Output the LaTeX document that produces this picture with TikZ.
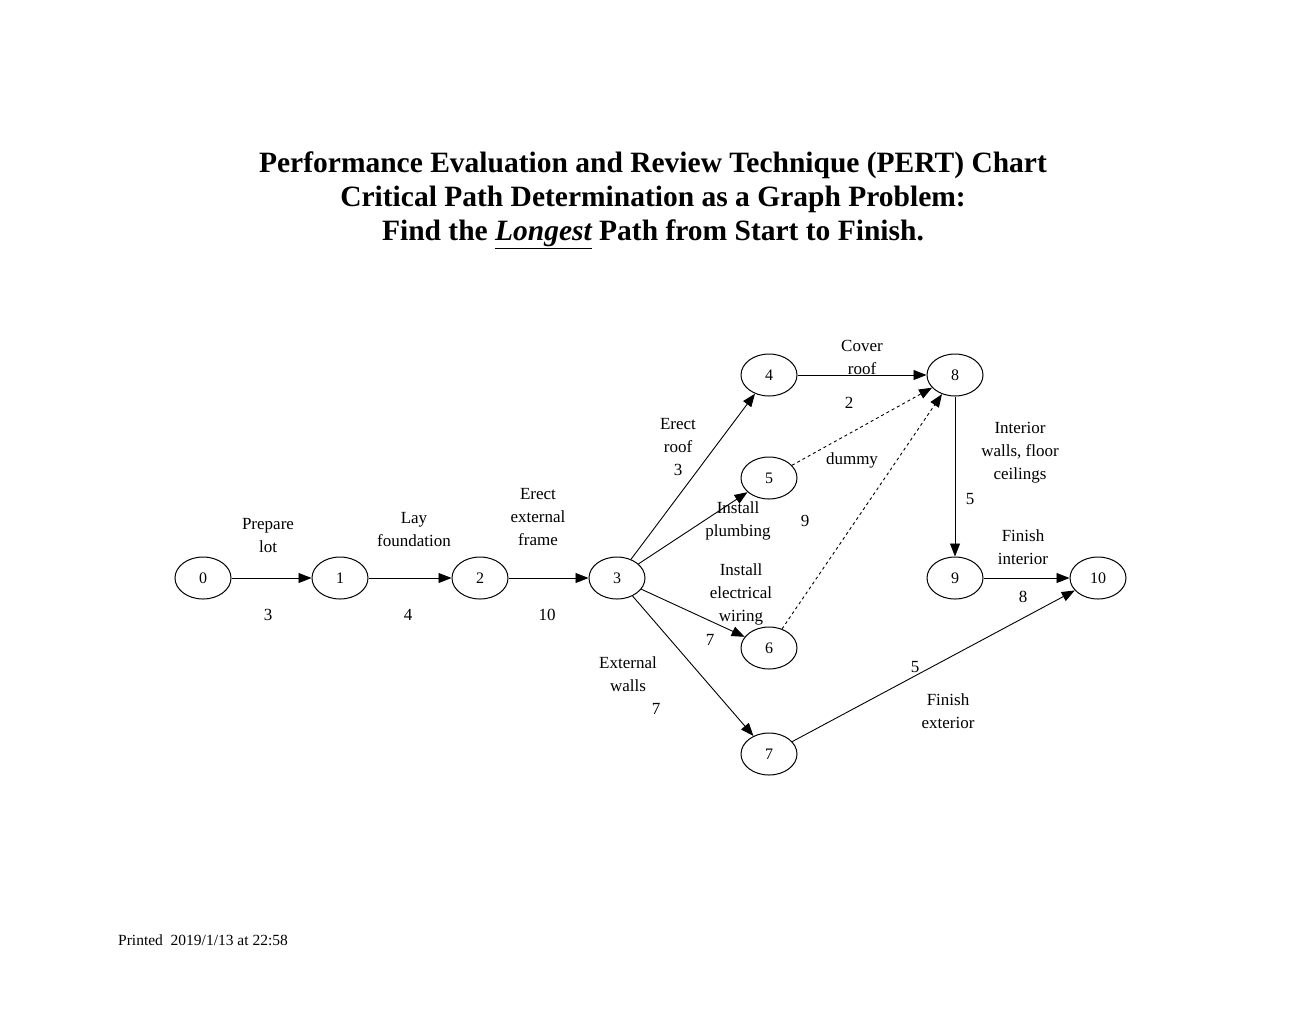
\documentclass[tikz,border=0pt]{standalone}
\usepackage{fontspec}
\setmainfont{Liberation Serif}
\usetikzlibrary{shapes.geometric,arrows.meta}
\begin{document}
\begin{tikzpicture}[x=1pt,y=-1pt,
  ev/.style={ellipse,draw,line width=1pt,minimum width=56pt,minimum height=42pt,inner sep=0pt,font=\fontsize{16}{16}\selectfont},
  act/.style={-{Triangle[length=13pt,width=10pt]},line width=0.9pt},
  dum/.style={act,dashed},
  lb/.style={font=\fontsize{17}{23}\selectfont,align=center,inner sep=0pt}]
\useasboundingbox (0,0) rectangle (1306,1010);
\node[font=\bfseries\fontsize{29.5}{34}\selectfont,align=center] (title) at (653,200) {Performance Evaluation and Review Technique (PERT) Chart\\Critical Path Determination as a Graph Problem:\\Find the \underline{\itshape Longest} Path from Start to Finish.};
\node[ev] (n0) at (203,578) {0};
\node[ev] (n1) at (340,578) {1};
\node[ev] (n2) at (480,578) {2};
\node[ev] (n3) at (617,578) {3};
\node[ev] (n4) at (769,375) {4};
\node[ev] (n5) at (769,478) {5};
\node[ev] (n6) at (769,648) {6};
\node[ev] (n7) at (769,754) {7};
\node[ev] (n8) at (955,375) {8};
\node[ev] (n9) at (955,578) {9};
\node[ev] (n10) at (1098,578) {10};
\draw[act] (n0) -- (n1);
\draw[act] (n1) -- (n2);
\draw[act] (n2) -- (n3);
\draw[act] (n3) -- (n4);
\draw[act] (n3) -- (n5);
\draw[act] (n3) -- (n6);
\draw[act] (n3) -- (n7);
\draw[act] (n4) -- (n8);
\draw[dum] (n5) -- (n8);
\draw[dum] (n6) -- (n8);
\draw[act] (n8) -- (n9);
\draw[act] (n9) -- (n10);
\draw[act] (n7) -- (n10);
\node[lb] (l01) at (268,536) {Prepare\\lot};
\node[lb] (w01) at (268,615) {3};
\node[lb] (l12) at (414,530) {Lay\\foundation};
\node[lb] (w12) at (408,615) {4};
\node[lb] (l23) at (538,517) {Erect\\external\\frame};
\node[lb] (w23) at (547,615) {10};
\node[lb] (l34) at (678,447) {Erect\\roof\\3};
\node[lb] (l35) at (738,521) {Install\\plumbing};
\node[lb] (w35) at (805,521) {9};
\node[lb] (l36) at (741,594) {Install\\electrical\\wiring};
\node[lb] (w36) at (710,640) {7};
\node[lb] (l37) at (628,674) {External\\walls};
\node[lb] (w37) at (656,709) {7};
\node[lb] (l48) at (862,357) {Cover\\roof};
\node[lb] (w48) at (849,403) {2};
\node[lb] (d58) at (852,460) {dummy};
\node[lb] (l89) at (1020,453) {Interior\\walls, floor\\ceilings};
\node[lb] (w89) at (970,499) {5};
\node[lb] (l910) at (1023,547) {Finish\\interior};
\node[lb] (w910) at (1023,597) {8};
\node[lb] (w710) at (915,667) {5};
\node[lb] (l710) at (948,711) {Finish\\exterior};
\node[font=\fontsize{15.5}{16}\selectfont,anchor=west,inner sep=0pt] (pr) at (118,940) {Printed\ \ 2019/1/13 at 22:58};
\end{tikzpicture}
\end{document}
